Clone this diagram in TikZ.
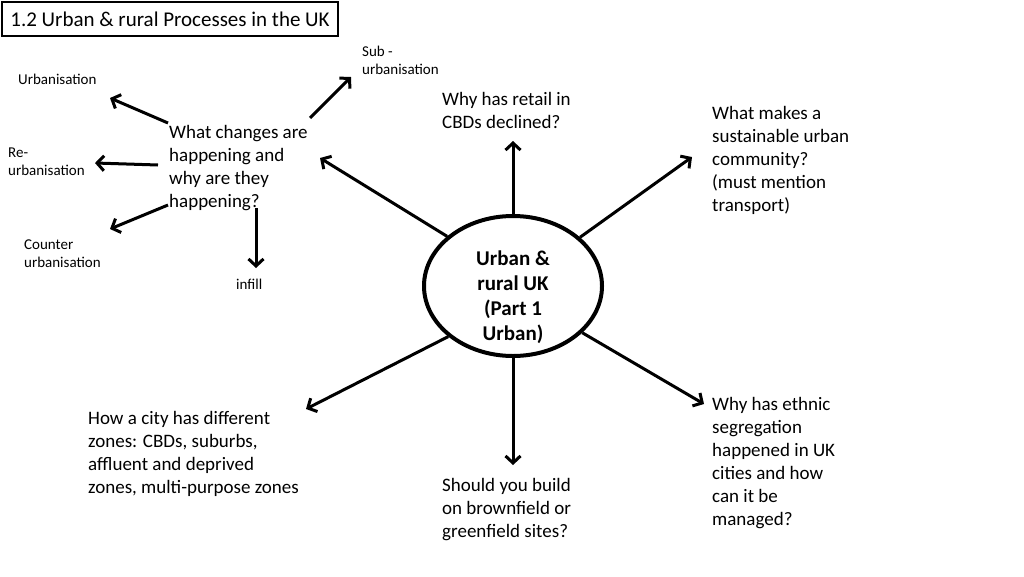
\documentclass[tikz,border=0pt]{standalone}
\usepackage{fontspec}
\setmainfont{Carlito}
\usetikzlibrary{arrows.meta,shapes.geometric}
\begin{document}
\begin{tikzpicture}[x=1pt,y=-1pt,
  txt/.style={anchor=north west,inner sep=0pt,align=left,font=\fontsize{19}{23}\selectfont},
  small/.style={anchor=north west,inner sep=0pt,align=left,font=\fontsize{15}{18}\selectfont},
  arr/.style={line width=3pt,-{Straight Barb[length=7pt,width=15pt]}},
  spoke/.style={line width=3pt,-{Straight Barb[length=7pt,width=15pt]}}]
\useasboundingbox (0,0) rectangle (1024,576);
% title
\node[draw,line width=2pt,anchor=north west,minimum height=34pt,minimum width=336pt,inner sep=0pt,
  font=\fontsize{21}{25}\selectfont] (title) at (1,1) {1.2 Urban \& rural Processes in the UK};
% centre
\node[draw,ellipse,line width=4pt,minimum width=178pt,minimum height=140pt,inner sep=0pt] (ctr) at (513,286) {};
\node[align=center,inner sep=0pt,font=\bfseries\fontsize{21}{25}\selectfont] (ctrtxt) at (513,297) {Urban \&\\rural UK\\(Part 1\\Urban)};
% main texts
\node[txt] (changes) at (169,125) {What changes are\\happening and\\why are they\\happening?};
\node[txt] (retail) at (442,92) {Why has retail in\\CBDs declined?};
\node[txt] (sust) at (712,106) {What makes a\\sustainable urban\\community?\\(must mention\\transport)};
\node[txt] (zones) at (88,411) {How a city has different\\zones: CBDs, suburbs,\\affluent and deprived\\zones, multi-purpose zones};
\node[txt] (brown) at (442,478) {Should you build\\on brownfield or\\greenfield sites?};
\node[txt] (ethnic) at (712,397) {Why has ethnic\\segregation\\happened in UK\\cities and how\\can it be\\managed?};
% small labels
\node[small] (sub) at (362,46) {Sub -\\urbanisation};
\node[small] (urb) at (18,74) {Urbanisation};
\node[small] (reurb) at (8,148) {Re-\\urbanisation};
\node[small] (counter) at (24,240) {Counter\\urbanisation};
\node[small] (infill) at (236,279) {infill};
% tip coordinates
\coordinate (tRetail) at (513,141);
\coordinate (tSust) at (692,157);
\coordinate (tChanges) at (320,158);
\coordinate (tZones) at (306,409);
\coordinate (tBrown) at (513,465);
\coordinate (tEthnic) at (704,404);
% spokes
\draw[spoke] (ctr.north) -- (tRetail);
\draw[spoke] (ctr.36) -- (tSust);
\draw[spoke] (ctr.143) -- (tChanges);
\draw[spoke] (ctr.218) -- (tZones);
\draw[spoke] (ctr.south) -- (tBrown);
\draw[spoke] (ctr.-34) -- (tEthnic);
% small arrows
\coordinate (sSub) at (310,118); \coordinate (tSub) at (351,77);
\coordinate (sUrb) at (168,123); \coordinate (tUrb) at (110,98);
\coordinate (sRe) at (158,165); \coordinate (tRe) at (95,163);
\coordinate (sCo) at (168,205); \coordinate (tCo) at (110,229);
\coordinate (sIn) at (256,208); \coordinate (tIn) at (256,268);
\draw[arr] (sSub) -- (tSub);
\draw[arr] (sUrb) -- (tUrb);
\draw[arr] (sRe) -- (tRe);
\draw[arr] (sCo) -- (tCo);
\draw[arr] (sIn) -- (tIn);
\end{tikzpicture}
\end{document}
